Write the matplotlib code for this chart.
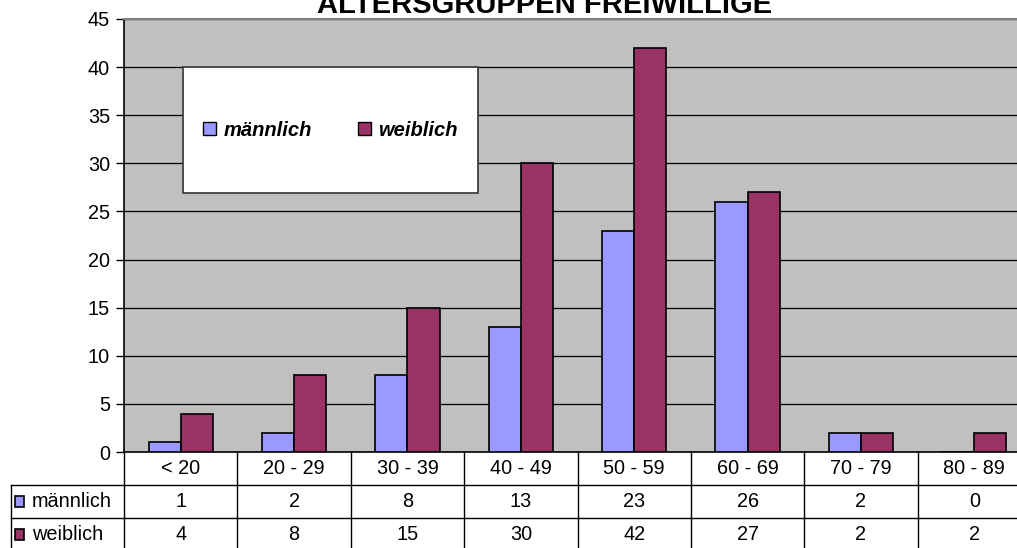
import matplotlib
matplotlib.use("Agg")
import matplotlib.pyplot as plt
import numpy as np
from matplotlib.patches import Rectangle, Patch

# Data
categories = ["< 20", "20 - 29", "30 - 39", "40 - 49", "50 - 59", "60 - 69", "70 - 79", "80 - 89"]
maennlich = [1, 2, 8, 13, 23, 26, 2, 0]
weiblich = [4, 8, 15, 30, 42, 27, 2, 2]
series_names = ["männlich", "weiblich"]
y_ticks = list(range(0, 50, 5))

COLOR_M = "#9999FF"
COLOR_W = "#993366"
BG = "#C0C0C0"
FONT = "Liberation Sans"
FS = 14.3

plt.rcParams["font.family"] = [FONT, "DejaVu Sans"]

W, H = 1017, 548
fig = plt.figure(figsize=(W / 100, H / 100), dpi=100)


def fx(px):
    return px / W


def fy(px):
    return 1 - px / H


# plot area: x 124 -> 1031 px (clipped at right), y 19 -> 452 px
left, right, top, bottom = 124, 1031, 19, 452
ax = fig.add_axes([fx(left), fy(bottom), fx(right - left), (bottom - top) / H])
ax.set_facecolor(BG)

n = len(categories)
x = np.arange(n) + 0.5
bw = 0.283
ax.bar(x - bw / 2, maennlich, bw, color=COLOR_M, edgecolor="black", linewidth=1.2, zorder=3)
ax.bar(x + bw / 2, weiblich, bw, color=COLOR_W, edgecolor="black", linewidth=1.2, zorder=3)

ax.set_xlim(0, n)
ax.set_ylim(0, 45)
ax.set_yticks(y_ticks)
ax.set_yticklabels([str(t) for t in y_ticks], fontsize=FS)
ax.tick_params(axis="y", direction="out", length=6, width=1, color="black", pad=4)
ax.set_xticks([])
ax.yaxis.grid(True, color="black", linewidth=0.9, zorder=1)
ax.set_axisbelow(True)
ax.spines["top"].set_color("#808080")
ax.spines["top"].set_linewidth(1.5)
ax.spines["right"].set_visible(False)
ax.spines["left"].set_color("black")
ax.spines["left"].set_linewidth(1.2)
ax.spines["bottom"].set_color("black")
ax.spines["bottom"].set_linewidth(1.2)

# title (cut off at top in the original)
fig.text(fx(545), fy(13), "ALTERSGRUPPEN FREIWILLIGE", ha="center", va="baseline",
         fontsize=21, fontweight="bold")

# legend box
lx0, lx1, ly0, ly1 = 183, 478, 67, 193
fig.patches.append(Rectangle((fx(lx0), fy(ly1)), fx(lx1 - lx0), (ly1 - ly0) / H,
                             transform=fig.transFigure, facecolor="white",
                             edgecolor="#404040", linewidth=1.3, zorder=5))
handles = [Patch(facecolor=COLOR_M, edgecolor="black", linewidth=1.0),
           Patch(facecolor=COLOR_W, edgecolor="black", linewidth=1.0)]
leg = fig.legend(handles, series_names, loc="center",
                 bbox_to_anchor=(fx((lx0 + lx1) / 2), fy((ly0 + ly1) / 2)),
                 ncol=2, frameon=False, handlelength=0.65, handleheight=0.65,
                 handletextpad=0.35, columnspacing=2.3,
                 prop={"family": FONT, "size": 14.5, "weight": "bold", "style": "italic"})
leg.set_zorder(6)

# data table below the plot, sharing the category scale
row_h = 33
tab = fig.add_axes([fx(left - (right - left) / n), fy(bottom + 3 * row_h),
                    fx((right - left) * (n + 1) / n), 3 * row_h / H])
tab.set_xlim(-1, n)
tab.set_ylim(3, 0)
tab.axis("off")

lw = 1.0
for i in range(n + 1):
    tab.plot([i, i], [0, 3], color="black", linewidth=lw, clip_on=False)
tab.plot([-1, -1], [1, 3], color="black", linewidth=lw, clip_on=False)
for r in (1, 2):
    tab.plot([-1, n], [r, r], color="black", linewidth=lw, clip_on=False)

for i, c in enumerate(categories):
    tab.text(i + 0.5, 0.5, c, ha="center", va="center", fontsize=FS)
for r, (name, vals, col) in enumerate([(series_names[0], maennlich, COLOR_M),
                                       (series_names[1], weiblich, COLOR_W)], start=1):
    tab.add_patch(Rectangle((-0.962, r + 0.34), 0.08, 0.33, facecolor=col,
                            edgecolor="black", linewidth=1.2, clip_on=False))
    tab.text(-0.81, r + 0.5, name, ha="left", va="center", fontsize=FS)
    for i, v in enumerate(vals):
        tab.text(i + 0.5, r + 0.5, str(v), ha="center", va="center", fontsize=FS)

fig.savefig("out.png", dpi=100)
